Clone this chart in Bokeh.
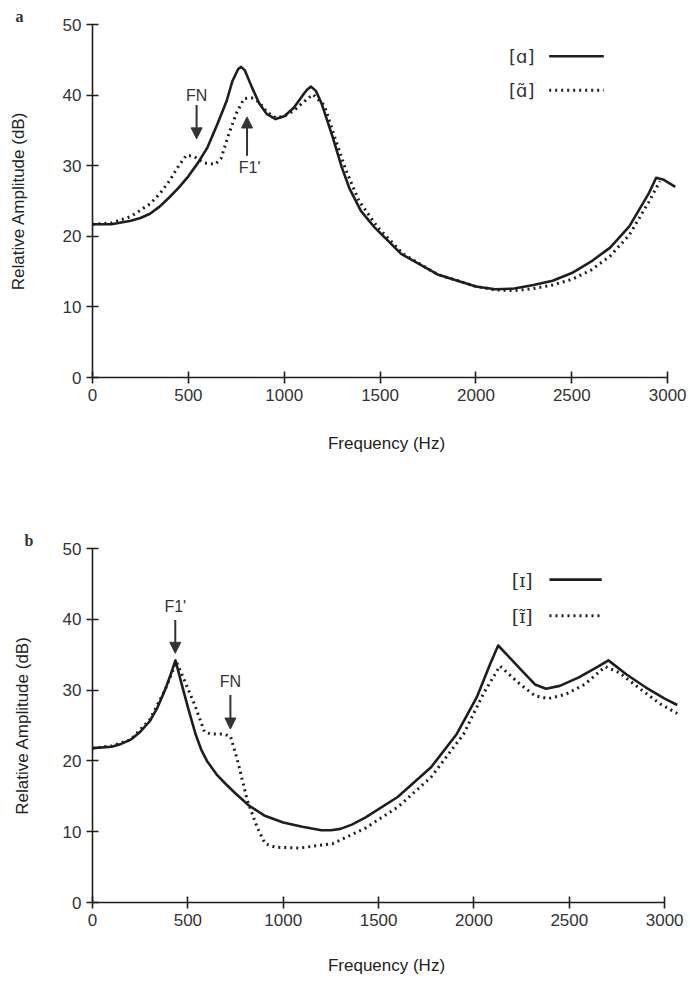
from bokeh.plotting import figure
from bokeh.models import Range1d, FixedTicker, Label, Arrow, NormalHead
from bokeh.layouts import column
from bokeh.embed import file_html
from bokeh.resources import INLINE

# ---------------- data ----------------
x_ticks = [0, 500, 1000, 1500, 2000, 2500, 3000]
y_ticks = [0, 10, 20, 30, 40, 50]

# panel a: oral [ɑ] (solid) and nasal [ɑ̃] (dotted)
a_oral_freq = [0, 100, 200, 250, 300, 350, 400, 450, 500, 550, 600, 650, 700, 730, 760, 775,
               795, 830, 870, 910, 955, 1000, 1050, 1100, 1120, 1140, 1165, 1195, 1250, 1300,
               1340, 1400, 1470, 1610, 1800, 2000, 2100, 2200, 2300, 2400, 2500, 2600, 2700,
               2800, 2900, 2940, 2980, 3040]
a_oral_db = [21.7, 21.7, 22.2, 22.6, 23.2, 24.2, 25.5, 26.9, 28.5, 30.4, 32.6, 35.8, 39.2,
             42.0, 43.7, 44.0, 43.5, 41.2, 38.8, 37.3, 36.6, 37.0, 38.2, 40.1, 40.8, 41.2,
             40.6, 38.8, 34.3, 29.8, 26.8, 23.6, 21.3, 17.5, 14.6, 12.9, 12.5, 12.6, 13.1,
             13.7, 14.8, 16.4, 18.4, 21.4, 26.0, 28.3, 28.0, 27.0]

a_nasal_freq = [0, 100, 200, 300, 350, 400, 450, 490, 530, 580, 640, 670, 710, 750, 790,
                830, 870, 910, 955, 1000, 1050, 1100, 1150, 1210, 1270, 1320, 1390, 1490,
                1620, 1800, 2000, 2100, 2200, 2300, 2400, 2500, 2600, 2700, 2800, 2900, 2960]
a_nasal_db = [21.7, 21.9, 22.8, 24.6, 26.0, 27.8, 30.0, 31.5, 31.3, 30.4, 30.2, 31.0, 34.4,
              37.4, 39.5, 39.6, 39.0, 37.6, 36.8, 37.0, 37.8, 39.0, 40.1, 38.5, 33.5, 29.5,
              25.0, 21.2, 17.5, 14.6, 12.9, 12.4, 12.3, 12.6, 13.1, 13.9, 15.2, 17.2, 20.2,
              24.8, 27.8]

# panel b: oral [ɪ] (solid) and nasal [ɪ̃] (dotted)
b_oral_freq = [0, 100, 150, 200, 250, 300, 340, 380, 410, 435, 470, 500, 540, 570, 600, 650,
               700, 750, 820, 900, 1000, 1100, 1200, 1250, 1300, 1360, 1430, 1600, 1775, 1910,
               2015, 2085, 2127, 2180, 2256, 2320, 2378, 2450, 2550, 2650, 2705, 2800, 2900,
               3000, 3066]
b_oral_db = [21.8, 22.0, 22.4, 23.0, 24.1, 25.6, 27.5, 30.0, 32.2, 34.2, 30.6, 27.6, 23.8,
             21.6, 20.0, 18.1, 16.7, 15.4, 13.7, 12.3, 11.3, 10.7, 10.2, 10.2, 10.4, 11.0,
             12.0, 14.9, 19.1, 23.8, 29.0, 33.7, 36.3, 34.8, 32.6, 30.8, 30.2, 30.6, 31.8,
             33.3, 34.2, 32.2, 30.4, 28.8, 27.9]

b_nasal_freq = [0, 100, 200, 300, 380, 440, 480, 535, 587, 620, 680, 723, 760, 811, 862,
                905, 960, 1086, 1258, 1431, 1602, 1775, 1946, 2050, 2136, 2239, 2320, 2390,
                2480, 2580, 2688, 2760, 2880, 2980, 3066]
b_nasal_db = [21.8, 22.1, 23.0, 25.8, 30.0, 34.0, 31.5, 28.0, 24.1, 23.8, 23.8, 23.5, 20.1,
              14.5, 10.7, 8.3, 7.8, 7.7, 8.3, 10.5, 13.5, 17.7, 23.8, 29.5, 33.4, 30.9, 29.2,
              28.8, 29.4, 30.8, 33.3, 32.5, 30.0, 28.0, 26.7]

INK = "#1e1e1e"
TXT = "#333333"
SANS = "Liberation Sans"


def make_panel(left, right, top, bottom, xend, letter):
    p = figure(width=690, height=491, x_range=Range1d(0, xend), y_range=Range1d(0, 50),
               output_backend="svg", toolbar_location=None,
               min_border_left=left, min_border_right=right,
               min_border_top=top, min_border_bottom=bottom)
    p.outline_line_color = None
    p.xgrid.visible = False
    p.ygrid.visible = False
    p.background_fill_color = "white"
    p.border_fill_color = "white"
    p.title.text = letter
    p.title.align = "left"
    p.title.offset = -left + 15
    p.title.standoff = 0
    p.title.text_font = "Liberation Serif"
    p.title.text_font_size = "16px"
    p.title.text_font_style = "bold"
    p.title.text_color = TXT
    p.xaxis.ticker = FixedTicker(ticks=x_ticks)
    p.yaxis.ticker = FixedTicker(ticks=y_ticks)
    p.xaxis.bounds = (0, 3000)
    p.yaxis.bounds = (0, 50)
    for ax in (p.xaxis, p.yaxis):
        ax.axis_line_color = INK
        ax.axis_line_width = 1.6
        ax.major_tick_line_color = INK
        ax.major_tick_line_width = 1.6
        ax.major_tick_in = 6
        ax.major_tick_out = 6
        ax.minor_tick_line_color = None
        ax.major_label_text_font = SANS
        ax.major_label_text_font_size = "17px"
        ax.major_label_text_color = TXT
        ax.major_label_standoff = 5
        ax.axis_label_text_font = SANS
        ax.axis_label_text_font_size = "17px"
        ax.axis_label_text_font_style = "normal"
        ax.axis_label_text_color = "#222222"
    p.xaxis.axis_label = "Frequency (Hz)"
    p.yaxis.axis_label = "Relative Amplitude (dB)"
    return p


def add_text(p, x, y, text, size="16px", font=SANS, align="center"):
    p.add_layout(Label(x=x, y=y, text=text, text_align=align, text_baseline="middle",
                       text_font=font, text_font_size=size, text_color=TXT))


def add_arrow(p, x, y0, y1):
    p.add_layout(Arrow(end=NormalHead(size=11, fill_color="#333333", line_color="#333333"),
                       x_start=x, y_start=y0, x_end=x, y_end=y1,
                       line_color="#333333", line_width=2))


def add_key(p, x0, x1, y, dash):
    p.add_layout(Arrow(end=None, start=None, x_start=x0, y_start=y, x_end=x1, y_end=y,
                       line_color=INK, line_width=2.6 if dash is None else 3,
                       line_dash="solid" if dash is None else dash))


# ---------------- panel a ----------------
pa = make_panel(92, 5, 24, 114, 3067, "a")
pa.xaxis.axis_label_standoff = 30
pa.yaxis.axis_label_standoff = 32
pa.line(a_oral_freq, a_oral_db, line_color=INK, line_width=2.6, line_join="round")
pa.line(a_nasal_freq, a_nasal_db, line_color=INK, line_width=3, line_dash="2 4")
add_text(pa, 543, 40.0, "FN")
add_arrow(pa, 543, 38.6, 33.8)
add_text(pa, 820, 29.8, "F1'")
add_arrow(pa, 806, 31.4, 36.9)
add_text(pa, 2305, 45.5, "[ɑ]", size="18px", font="DejaVu Sans", align="right")
add_text(pa, 2305, 40.7, "[ɑ̃]", size="18px", font="DejaVu Sans", align="right")
add_key(pa, 2382, 2667, 45.5, None)
add_key(pa, 2382, 2667, 40.7, "2 4")

# ---------------- panel b ----------------
pb = make_panel(83, 10, 57, 80, 3083, "b")
pb.xaxis.axis_label_standoff = 27
pb.yaxis.axis_label_standoff = 28
pb.line(b_oral_freq, b_oral_db, line_color=INK, line_width=2.6, line_join="round")
pb.line(b_nasal_freq, b_nasal_db, line_color=INK, line_width=3, line_dash="2 4")
add_text(pb, 434, 41.8, "F1'")
add_arrow(pb, 434, 39.9, 35.2)
add_text(pb, 723, 31.2, "FN")
add_arrow(pb, 723, 29.3, 24.5)
add_text(pb, 2308, 45.6, "[ɪ]", size="19px", font="DejaVu Serif", align="right")
add_text(pb, 2308, 40.5, "[ɪ̃]", size="19px", font="DejaVu Serif", align="right")
add_key(pb, 2396, 2670, 45.6, None)
add_key(pb, 2396, 2670, 40.5, "2 4")

layout = column(pa, pb)
open("out.html", "w").write(file_html(layout, INLINE))
